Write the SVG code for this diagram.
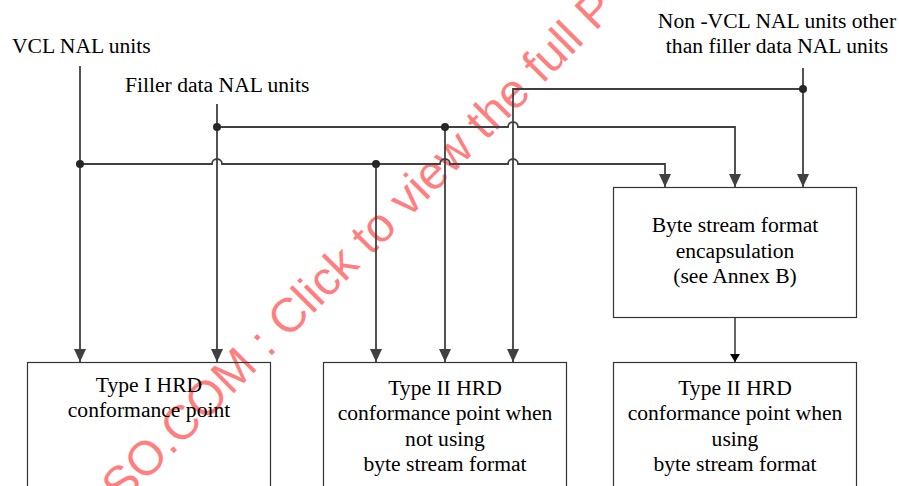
<svg xmlns="http://www.w3.org/2000/svg" width="899" height="486" viewBox="0 0 899 486">
<style>
  .t { font-family: "Liberation Serif", "Times New Roman", serif; font-size: 21.6px; fill: #000; }
  .c { text-anchor: middle; }
  .box { fill: none; stroke: #333; stroke-width: 1.2; }
  .wire { fill: none; stroke: #404040; stroke-width: 1.8; }
  .dot { fill: #262626; }
  .wm { font-family: "Liberation Sans", Arial, sans-serif; font-size: 48px; fill: #ff0000; fill-opacity: 0.5; }
</style>
<defs>
  <marker id="arr" viewBox="0 0 13 12" refX="13" refY="6" markerWidth="13" markerHeight="12" markerUnits="userSpaceOnUse" orient="auto">
    <path d="M0,0 L13,6 L0,12 z" fill="#404040"/>
  </marker>
  <marker id="arrs" viewBox="0 0 8 10" refX="8" refY="5" markerWidth="8" markerHeight="10" markerUnits="userSpaceOnUse" orient="auto">
    <path d="M0,0 L8,5 L0,10 z" fill="#000"/>
  </marker>
</defs>

<text class="wm" x="121.6" y="505.4" transform="rotate(-45 121.6 505.4)">SO.COM : Click to view the full P</text>

<g id="label-vcl">
  <text class="t" x="12" y="53">VCL NAL units</text>
</g>
<g id="label-filler">
  <text class="t" x="125" y="92">Filler data NAL units</text>
</g>
<g id="label-nonvcl">
  <text class="t c" x="777" y="28">Non -VCL NAL units other</text>
  <text class="t c" x="777" y="53">than filler data NAL units</text>
</g>

<g id="byte-stream">
  <rect class="box" x="613.5" y="187.5" width="243" height="130"/>
  <text class="t c" x="735" y="232">Byte stream format</text>
  <text class="t c" x="735" y="258">encapsulation</text>
  <text class="t c" x="735" y="283">(see Annex B)</text>
</g>

<g id="type1">
  <rect class="box" x="27.5" y="362.5" width="243" height="140"/>
  <text class="t c" x="149" y="392">Type I HRD</text>
  <text class="t c" x="149" y="417">conformance point</text>
</g>

<g id="type2-nobs">
  <rect class="box" x="323.5" y="362.5" width="243" height="140"/>
  <text class="t c" x="445" y="395">Type II HRD</text>
  <text class="t c" x="445" y="420">conformance point when</text>
  <text class="t c" x="445" y="446">not using</text>
  <text class="t c" x="445" y="471">byte stream format</text>
</g>

<g id="type2-bs">
  <rect class="box" x="613.5" y="362.5" width="243" height="140"/>
  <text class="t c" x="735" y="395">Type II HRD</text>
  <text class="t c" x="735" y="420">conformance point when</text>
  <text class="t c" x="735" y="446">using</text>
  <text class="t c" x="735" y="471">byte stream format</text>
</g>

<g id="connectors">
  <!-- VCL -->
  <path class="wire" d="M80,66 V362" marker-end="url(#arr)"/>
  <path class="wire" d="M80,164 H212 a5,5 0 0 1 10,0 H440 a5,5 0 0 1 10,0 H508 a5,5 0 0 1 10,0 H665 V187" marker-end="url(#arr)"/>
  <path class="wire" d="M376,164 V362" marker-end="url(#arr)"/>
  <!-- Filler -->
  <path class="wire" d="M217,104 V362" marker-end="url(#arr)"/>
  <path class="wire" d="M217,127 H508 a5,5 0 0 1 10,0 H735 V187" marker-end="url(#arr)"/>
  <path class="wire" d="M445,127 V362" marker-end="url(#arr)"/>
  <!-- Non-VCL -->
  <path class="wire" d="M803,68 V187" marker-end="url(#arr)"/>
  <path class="wire" d="M803,89 H513 V362" marker-end="url(#arr)"/>
  <!-- Byte stream to Type II -->
  <path fill="none" stroke="#000" stroke-width="1.2" d="M735,318 V362" marker-end="url(#arrs)"/>
  <!-- junction dots -->
  <circle class="dot" cx="80" cy="164" r="4"/>
  <circle class="dot" cx="376" cy="164" r="4"/>
  <circle class="dot" cx="217" cy="127" r="4"/>
  <circle class="dot" cx="445" cy="127" r="4"/>
  <circle class="dot" cx="803" cy="89" r="4"/>
</g>
</svg>
